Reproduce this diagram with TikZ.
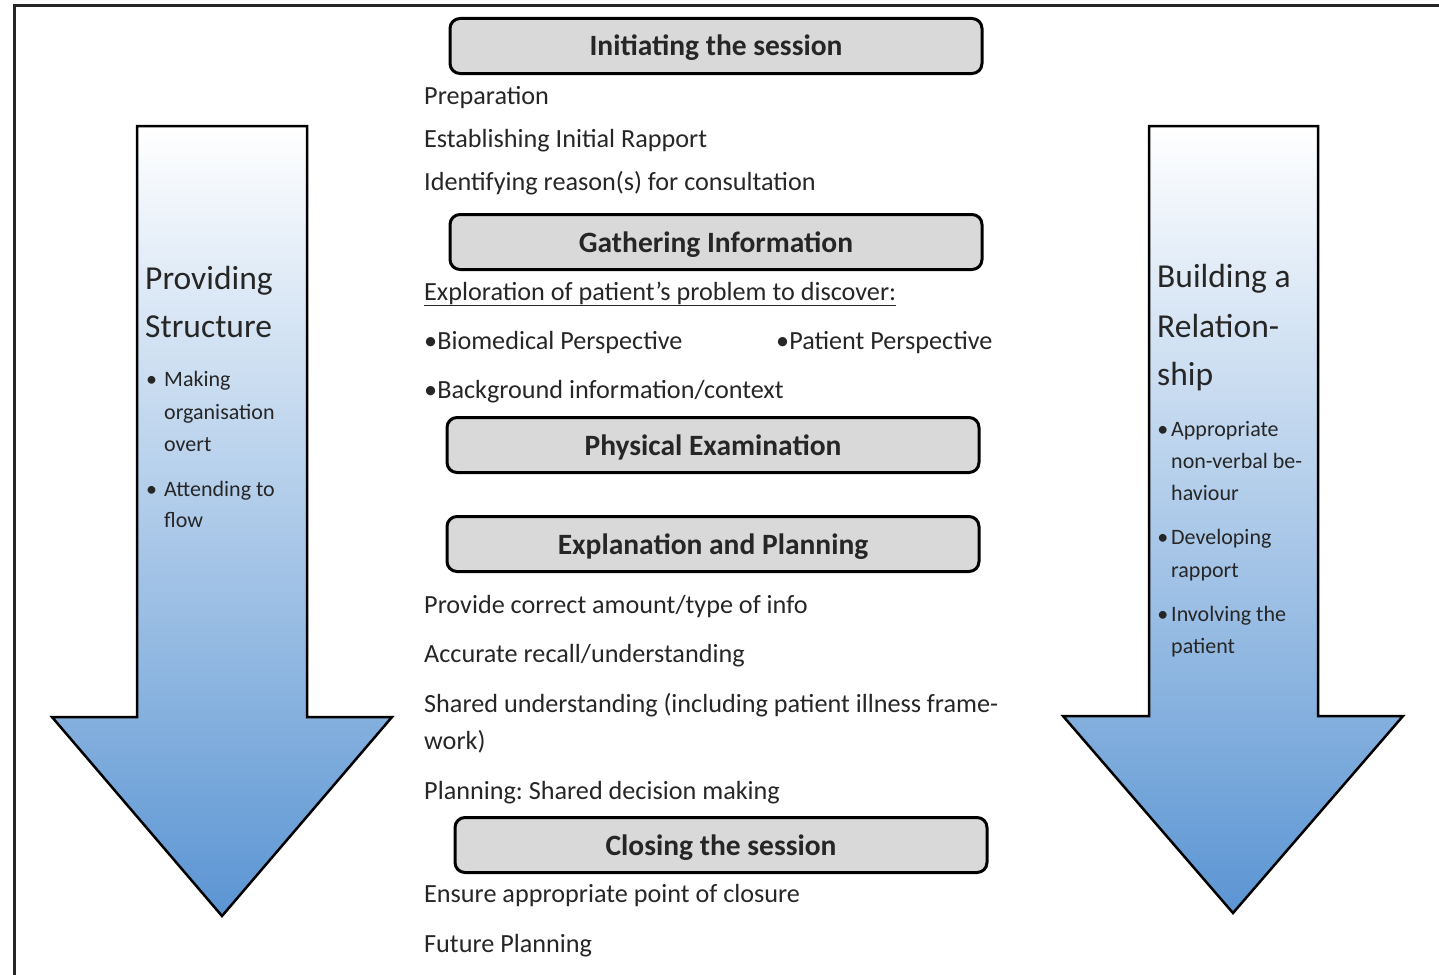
\documentclass[tikz,border=0pt]{standalone}
\usepackage{fontspec}
\setmainfont{Carlito}
\usepackage{tikz}
\frenchspacing

\definecolor{arrowmid}{HTML}{C5DAF0}
\definecolor{arrowbot}{HTML}{5B95D3}
\definecolor{boxgray}{HTML}{D9D9D9}
\definecolor{ink}{HTML}{262626}

\begin{document}
\begin{tikzpicture}[x=1pt, y=-1pt,
  stage/.style={draw=black, line width=3pt, rounded corners=10pt, fill=boxgray,
    minimum width=532pt, minimum height=55pt, inner sep=0pt,
    text height=20pt, text depth=0pt,
    font=\fontsize{29.5}{32}\selectfont\bfseries, text=ink},
  item/.style={anchor=base west, inner sep=0pt, font=\fontsize{26.2}{30}\selectfont, text=ink},
  bigword/.style={anchor=base west, inner sep=0pt, font=\fontsize{33.5}{40}\selectfont, text=ink},
  point/.style={anchor=base west, inner sep=0pt, font=\fontsize{22}{26}\selectfont, text=ink},
  flowarrow/.style={draw=black, line width=2.5pt, top color=white, middle color=arrowmid, bottom color=arrowbot}]
\useasboundingbox (0,0) rectangle (1439,974);

% frame
\draw[line width=3pt, black!85] (14,990) -- (14,6) -- (1450,6);

% left arrow
\draw[flowarrow] (137,126) -- (307,126) -- (307,717) -- (392,717) -- (222,916)
  -- (52,717) -- (137,717) -- cycle;
\node[bigword] (prov) at (145,289) {Providing};
\node[bigword] (struc) at (145,337) {Structure};
\node[point] (lp1) at (164,386) {\llap{•\hspace{7pt}}Making};
\node[point] (lp1b) at (164,419) {organisation};
\node[point] (lp1c) at (164,451) {overt};
\node[point] (lp2) at (164,496) {\llap{•\hspace{7pt}}Attending to};
\node[point] (lp2b) at (164,527) {flow};

% right arrow
\draw[flowarrow] (1149,126) -- (1318,126) -- (1318,716) -- (1403,716) -- (1233,913)
  -- (1063,716) -- (1149,716) -- cycle;
\node[bigword] (build) at (1157,287) {Building a};
\node[bigword] (relat) at (1157,337) {Relation-};
\node[bigword] (ship) at (1157,385) {ship};
\node[point] (rp1) at (1171,436) {\llap{•\hspace{3pt}}Appropriate};
\node[point] (rp1b) at (1171,468) {non-verbal be-};
\node[point] (rp1c) at (1171,500) {haviour};
\node[point] (rp2) at (1171,544) {\llap{•\hspace{3pt}}Developing};
\node[point] (rp2b) at (1171,577) {rapport};
\node[point] (rp3) at (1171,621) {\llap{•\hspace{3pt}}Involving the};
\node[point] (rp3b) at (1171,653) {patient};

% stages
\node[stage] (initiating) at (716,46) {Initiating the session};
\node[item] (prep) at (424,104) {Preparation};
\node[item] (rapport) at (424,147) {Establishing Initial Rapport};
\node[item] (reason) at (424,190) {Identifying reason(s) for consultation};

\node[stage] (gathering) at (716,242) {Gathering Information};
\node[item] (explore) at (424,300) {\underline{Exploration of patient’s problem to discover:}};
\node[item] (biomed) at (424,349) {•Biomedical Perspective};
\node[item] (patpersp) at (776,349) {•Patient Perspective};
\node[item] (backgr) at (424,398) {•Background information/context};

\node[stage] (physical) at (713,445) {Physical Examination};

\node[stage] (explain) at (713,544) {Explanation and Planning};
\node[item] (amount) at (424,613) {Provide correct amount/type of info};
\node[item] (recall) at (424,662) {Accurate recall/understanding};
\node[item] (shared) at (424,712) {Shared understanding (including patient illness frame-};
\node[item] (sharedb) at (424,749) {work)};
\node[item] (decide) at (424,799) {Planning: Shared decision making};

\node[stage] (closing) at (721,845) {Closing the session};
\node[item] (closure) at (424,902) {Ensure appropriate point of closure};
\node[item] (future) at (424,952) {Future Planning};
\end{tikzpicture}
\end{document}
